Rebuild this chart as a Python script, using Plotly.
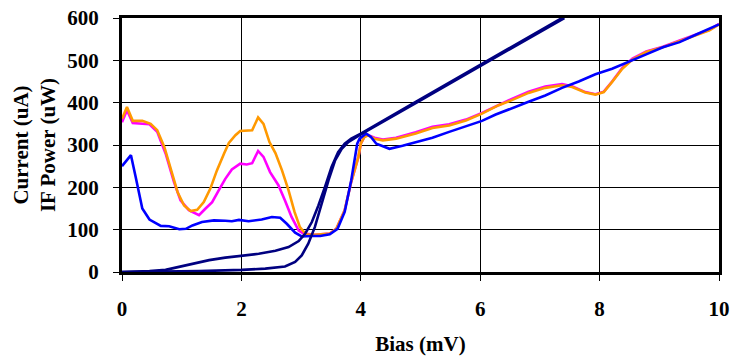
import plotly.graph_objects as go

# ---- data ----
orange_x = [0, 0.083, 0.18, 0.34, 0.48, 0.59, 0.71, 0.82, 0.93, 1.04, 1.15, 1.26, 1.37, 1.48, 1.59, 1.71,
            1.79, 1.9, 1.98, 2.18, 2.28, 2.37, 2.47, 2.57, 2.68, 2.79, 2.89, 2.98, 3.08, 3.23, 3.48, 3.59,
            3.73, 3.84, 3.96, 4.0, 4.06, 4.12, 4.23, 4.37, 4.59, 4.92, 5.2, 5.48, 5.76, 6.03, 6.15, 6.31,
            6.53, 6.81, 7.09, 7.37, 7.54, 7.76, 7.93, 8.07, 8.21, 8.38, 8.55, 8.78, 9.06, 9.34, 9.62, 9.84, 10.0]
orange_y = [362, 390, 357, 357, 350, 335, 295, 240, 189, 157, 144, 147, 165, 197, 240, 280,
            305, 323, 333, 335, 365, 350, 307, 281, 240, 193, 142, 106, 89, 88, 91, 102,
            146, 213, 272, 303, 319, 323, 315, 311, 315, 327, 340, 346, 358, 374, 382, 394,
            406, 423, 435, 441, 437, 424, 419, 425, 449, 480, 502, 520, 531, 546, 561, 571, 585]

magenta_x = [0, 0.083, 0.18, 0.46, 0.59, 0.73, 0.87, 0.98, 1.12, 1.29, 1.4, 1.51, 1.62, 1.73, 1.84, 1.98,
             2.09, 2.18, 2.28, 2.37, 2.48, 2.62, 2.73, 2.84, 2.96, 3.04, 3.23, 3.48, 3.59, 3.73, 3.84,
             3.96, 4.0, 4.06, 4.12, 4.23, 4.37, 4.59, 4.92, 5.2, 5.48, 5.76, 6.03, 6.15, 6.31, 6.53, 6.81,
             7.09, 7.37, 7.54, 7.76, 7.93, 8.07, 8.21, 8.38, 8.55, 8.78, 9.06, 9.34, 9.62, 9.84, 10.0]
magenta_y = [354, 382, 352, 349, 331, 280, 213, 169, 146, 134, 150, 165, 193, 220, 242, 256,
             254, 257, 286, 272, 236, 205, 169, 130, 98, 91, 88, 91, 102, 146, 213,
             272, 303, 319, 324, 317, 313, 317, 330, 343, 349, 360, 376, 384, 396, 409, 426,
             438, 444, 439, 425, 420, 426, 450, 482, 504, 521, 532, 547, 562, 572, 586]

blue_x = [0, 0.15, 0.23, 0.34, 0.46, 0.65, 0.79, 0.96, 1.07, 1.18, 1.34, 1.54, 1.73, 1.84, 1.96, 2.12,
          2.34, 2.51, 2.65, 2.76, 2.9, 3.01, 3.18, 3.32, 3.48, 3.61, 3.73, 3.84, 3.94, 3.98, 4.09, 4.17,
          4.26, 4.48, 4.7, 4.92, 5.2, 5.48, 5.76, 6.03, 6.26, 6.53, 6.81, 7.09, 7.37, 7.65, 7.93, 8.21,
          8.49, 8.78, 9.06, 9.34, 9.62, 10.0]
blue_y = [250, 276, 224, 150, 124, 109, 108, 101, 102, 110, 118, 122, 121, 120, 123, 120,
          124, 130, 128, 114, 93, 84, 85, 85, 89, 102, 142, 217, 303, 315, 327, 319,
          303, 291, 298, 307, 317, 331, 344, 357, 372, 386, 402, 417, 435, 450, 467, 480,
          496, 514, 531, 543, 561, 585]

iv_pumped_x = [0, 0.46, 0.73, 0.96, 1.18, 1.46, 1.73, 2.01, 2.29, 2.57, 2.79, 2.96, 3.07, 3.18, 3.29,
               3.4, 3.51, 3.62, 3.73, 3.84, 3.96, 4.0, 4.92, 6.33, 7.37]
iv_pumped_y = [0, 2, 5, 12, 20, 28, 34, 38, 43, 50, 59, 73, 91, 118, 157,
               201, 248, 283, 303, 315, 323, 327, 402, 516, 600]

iv_unpumped_x = [0, 1.29, 2.01, 2.4, 2.73, 2.9, 3.01, 3.12, 3.23, 3.34, 3.46, 3.57, 3.68, 3.79, 3.9,
                 4.0, 4.92, 6.33, 7.41]
iv_unpumped_y = [0, 2, 5, 8, 13, 24, 39, 67, 106, 161, 217, 264, 291, 307, 317,
                 325, 399, 513, 600]

x_ticks = [0, 2, 4, 6, 8, 10]
y_ticks = [0, 100, 200, 300, 400, 500, 600]

# ---- figure ----
fig = go.Figure()
lw = 2.6
fig.add_trace(go.Scatter(x=magenta_x, y=magenta_y, mode="lines", line=dict(color="#FF00FF", width=lw)))
fig.add_trace(go.Scatter(x=orange_x, y=orange_y, mode="lines", line=dict(color="#FF9900", width=lw)))
fig.add_trace(go.Scatter(x=blue_x, y=blue_y, mode="lines", line=dict(color="#0000FF", width=lw)))
fig.add_trace(go.Scatter(x=iv_unpumped_x, y=iv_unpumped_y, mode="lines", line=dict(color="#000080", width=lw)))
fig.add_trace(go.Scatter(x=iv_pumped_x, y=iv_pumped_y, mode="lines", line=dict(color="#000080", width=lw)))

font = dict(family="Liberation Serif", size=21, color="black")

fig.update_layout(
    width=731, height=356,
    margin=dict(l=122, r=12, t=18, b=84),
    paper_bgcolor="white", plot_bgcolor="white",
    showlegend=False,
    font=font,
    xaxis=dict(
        range=[0, 10], tickvals=x_ticks, ticktext=[f"<b>{v}</b>" for v in x_ticks],
        showgrid=True, gridcolor="black", gridwidth=1,
        showline=True, linecolor="black", linewidth=3, mirror=True,
        ticks="outside", ticklen=6, tickcolor="black", tickwidth=1,
        ticklabelstandoff=10, zeroline=False, automargin=False,
        title=dict(text="<b>Bias (mV)</b>", font=font, standoff=18),
    ),
    yaxis=dict(
        range=[0, 600], tickvals=y_ticks, ticktext=[f"<b>{v}</b>" for v in y_ticks],
        showgrid=True, gridcolor="black", gridwidth=1,
        showline=True, linecolor="black", linewidth=3, mirror=True,
        ticks="outside", ticklen=6, tickcolor="black", tickwidth=1,
        ticklabelstandoff=10, zeroline=False, automargin=False,
        title=dict(text="<b>Current (uA)<br>IF Power (uW)</b>", font=font, standoff=6),
    ),
)

fig.write_html("out.html")
